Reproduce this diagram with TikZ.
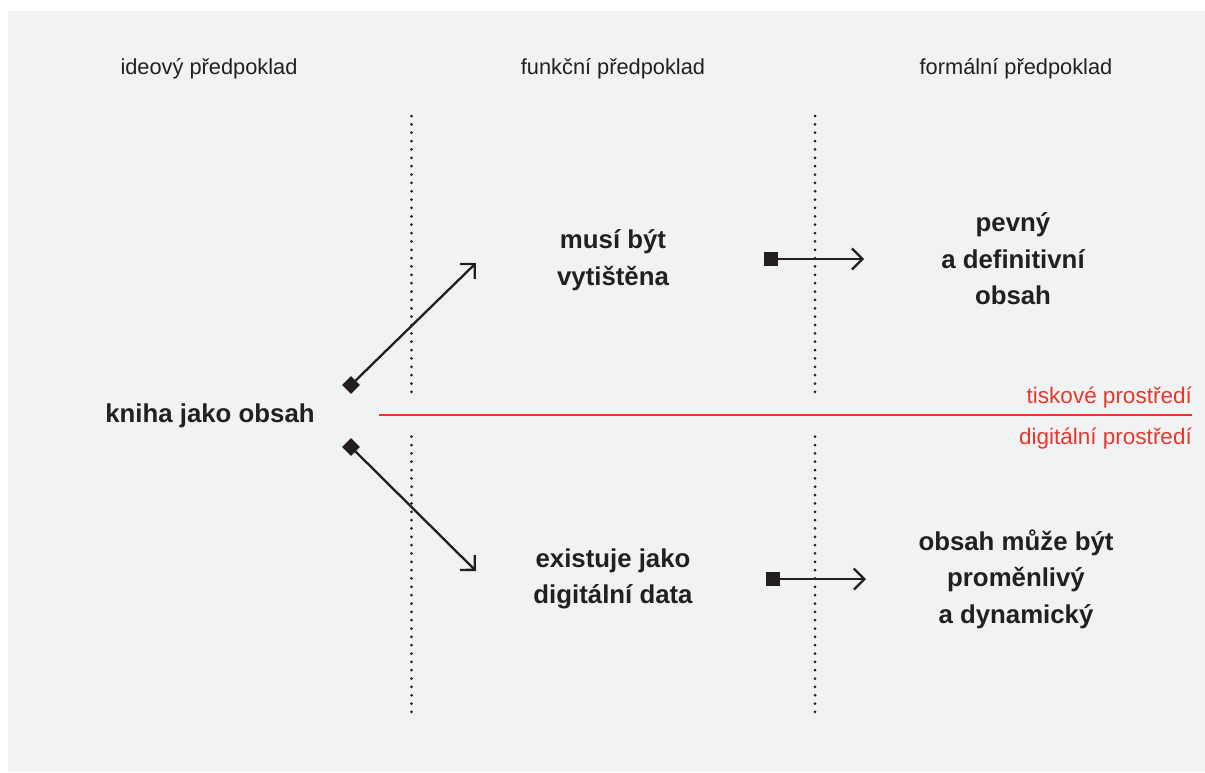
\documentclass[tikz,border=0pt]{standalone}
\usepackage{fontspec}
\setmainfont{Liberation Sans}
\usetikzlibrary{arrows.meta,shapes.geometric}

\definecolor{panel}{HTML}{F1F2F4}
\definecolor{ink}{HTML}{231F20}
\definecolor{signal}{HTML}{E8372C}

\tikzset{
  head/.style={font=\fontsize{21.8}{25}\selectfont, text=ink, anchor=base, inner sep=0pt},
  label/.style={font=\fontsize{25.8}{36.5}\selectfont\bfseries, text=ink, align=center, inner sep=0pt},
  side/.style={font=\fontsize{22.5}{25}\selectfont, text=signal, anchor=base east, inner sep=0pt},
  arr/.style={draw=ink, line width=2.3pt, -{Straight Barb[length=10.5pt,width=21pt,line width=2.3pt]}},
  diam/.style={diamond, fill=ink, minimum size=18pt, inner sep=0pt},
  sq/.style={rectangle, fill=ink, minimum size=14pt, inner sep=0pt},
  dot/.style={fill=ink},
}

\begin{document}
\begin{tikzpicture}[x=1pt,y=-1pt]
  % canvas and panel
  \useasboundingbox (0,0) rectangle (1205,772);
  \fill[white] (0,0) rectangle (1205,772);
  \fill[panel] (8,11) rectangle (1205,772);

  % column headings
  \node[head] (h1) at (209,74) {ideový předpoklad};
  \node[head] (h2) at (613,74) {funkční předpoklad};
  \node[head] (h3) at (1016,74) {formální předpoklad};

  % dotted column separators
  \foreach \x in {411.5,815} {
    \foreach \i in {0,...,33} {
      \fill[dot] (\x,116+\i*8.36) circle (1.5);
      \fill[dot] (\x,436.7+\i*8.34) circle (1.5);
    }
  }

  % print / digital divide
  \coordinate (r0) at (379,415);
  \coordinate (r1) at (1192,415);
  \draw[signal, line width=2.6pt] (r0) -- (r1);
  \node[side] (s1) at (1192,403) {tiskové prostředí};
  \node[side] (s2) at (1192,444) {digitální prostředí};

  % main idea
  \node[label] (idea) at (210,416) {kniha jako obsah};

  % functional assumptions
  \node[label] (f1) at (613,260) {musí být\\vytištěna};
  \node[label] (f2) at (613,579) {existuje jako\\digitální data};

  % formal assumptions
  \node[label] (g1) at (1013,259) {pevný\\a definitivní\\obsah};
  \node[label] (g2) at (1016,579) {obsah může být\\proměnlivý\\a dynamický};

  % branches from the idea
  \coordinate (t1) at (476,263);
  \coordinate (t2) at (476,571);
  \draw[arr] (351,385) -- (t1);
  \draw[arr] (351,447) -- (t2);
  \node[diam] (d1) at (351,385) {};
  \node[diam] (d2) at (351,447) {};

  % consequences
  \node[sq] (q1) at (771,259) {};
  \node[sq] (q2) at (773,579) {};
  \coordinate (u1) at (864,259);
  \coordinate (u2) at (866,579);
  \draw[arr] (q1.center) -- (u1);
  \draw[arr] (q2.center) -- (u2);
\end{tikzpicture}
\end{document}
